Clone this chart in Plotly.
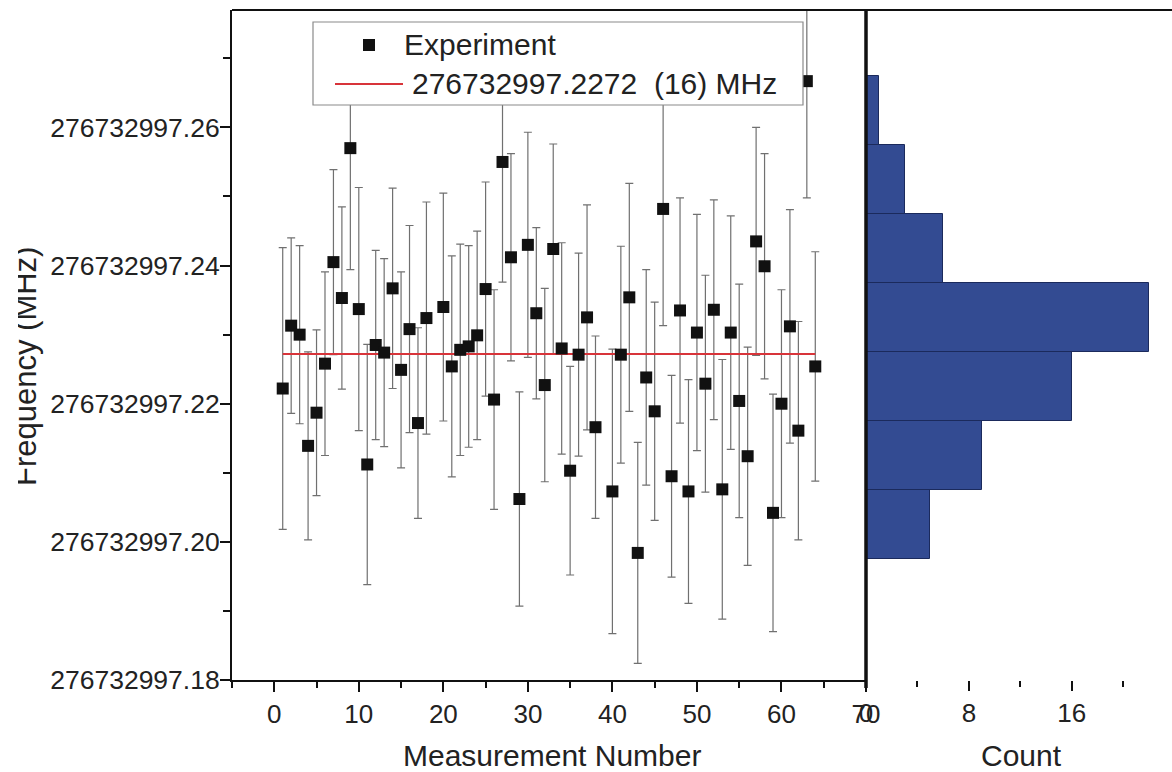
import plotly.graph_objects as go

# Repeated frequency measurements (MHz) with 1-sigma uncertainties
measurement = [1, 2, 3, 4, 5, 6, 7, 8, 9, 10, 11, 12, 13, 14, 15, 16, 17, 18,
               20, 21, 22, 23, 24, 25, 26, 27, 28, 29, 30, 31, 32, 33, 34, 35,
               36, 37, 38, 40, 41, 42, 43, 44, 45, 46, 47, 48, 49, 50, 51, 52,
               53, 54, 55, 56, 57, 58, 59, 60, 61, 62, 63, 64]
frequency = [276732997.2222, 276732997.2313, 276732997.2300, 276732997.2139,
             276732997.2187, 276732997.2258, 276732997.2405, 276732997.2353,
             276732997.2570, 276732997.2337, 276732997.2112, 276732997.2285,
             276732997.2274, 276732997.2367, 276732997.2249, 276732997.2308,
             276732997.2172, 276732997.2324, 276732997.2340, 276732997.2254,
             276732997.2278, 276732997.2283, 276732997.2299, 276732997.2366,
             276732997.2206, 276732997.2550, 276732997.2412, 276732997.2062,
             276732997.2430, 276732997.2331, 276732997.2227, 276732997.2424,
             276732997.2280, 276732997.2103, 276732997.2271, 276732997.2325,
             276732997.2166, 276732997.2073, 276732997.2271, 276732997.2354,
             276732997.1984, 276732997.2238, 276732997.2189, 276732997.2482,
             276732997.2095, 276732997.2335, 276732997.2073, 276732997.2303,
             276732997.2229, 276732997.2336, 276732997.2076, 276732997.2303,
             276732997.2204, 276732997.2124, 276732997.2435, 276732997.2399,
             276732997.2042, 276732997.2200, 276732997.2312, 276732997.2161,
             276732997.2667, 276732997.2254]
uncertainty = [0.0204, 0.0127, 0.0129, 0.0136, 0.0120, 0.0133, 0.0134, 0.0132,
               0.0176, 0.0176, 0.0174, 0.0137, 0.0136, 0.0145, 0.0142, 0.0150,
               0.0138, 0.0168, 0.0165, 0.0160, 0.0153, 0.0146, 0.0151, 0.0155,
               0.0159, 0.0174, 0.0150, 0.0155, 0.0163, 0.0124, 0.0140, 0.0152,
               0.0153, 0.0151, 0.0147, 0.0163, 0.0132, 0.0206, 0.0157, 0.0165,
               0.0160, 0.0156, 0.0158, 0.0169, 0.0146, 0.0163, 0.0162, 0.0171,
               0.0157, 0.0159, 0.0188, 0.0169, 0.0169, 0.0158, 0.0165, 0.0163,
               0.0172, 0.0165, 0.0169, 0.0158, 0.0169, 0.0166]

# Weighted mean result
mean_frequency = 276732997.2272
mean_label = "276732997.2272\u00a0 (16) MHz"

# Histogram of the measurements
bin_lower = [276732997.1975, 276732997.2075, 276732997.2175, 276732997.2275,
             276732997.2375, 276732997.2475, 276732997.2575]
bin_width = 0.01
bin_counts = [5, 9, 16, 22, 6, 3, 1]

# Axis ticks
y_tickvals = [276732997.18, 276732997.20, 276732997.22, 276732997.24, 276732997.26]
y_ticktext = ["276732997.18", "276732997.20", "276732997.22", "276732997.24", "276732997.26"]
y_minorvals = [276732997.19, 276732997.21, 276732997.23, 276732997.25, 276732997.27]
x_tickvals = [0, 10, 20, 30, 40, 50, 60, 70]
count_tickvals = [0, 8, 16]

W, H = 1172, 772
FONT = "Liberation Sans, Arial, Helvetica, sans-serif"
TXT = "#222222"


def px(x):
    return x / W


def py(y):
    return 1 - y / H


left_l, left_r = px(232), px(866)
top, bottom = py(10), py(680)

fig = go.Figure()

# Error bars
fig.add_trace(go.Scatter(
    x=measurement, y=frequency, mode="markers",
    marker=dict(size=1, color="rgba(0,0,0,0)"),
    error_y=dict(type="data", array=uncertainty, visible=True,
                 color="#707070", thickness=1.2, width=4),
    cliponaxis=False, showlegend=False, hoverinfo="skip",
    xaxis="x", yaxis="y",
))

# Mean value line
fig.add_trace(go.Scatter(
    x=[measurement[0], measurement[-1]], y=[mean_frequency, mean_frequency],
    mode="lines", line=dict(color="#d8343a", width=2),
    showlegend=False, xaxis="x", yaxis="y",
))

# Measurement points
fig.add_trace(go.Scatter(
    x=measurement, y=frequency, mode="markers",
    marker=dict(symbol="square", size=12, color="#111111", line=dict(width=0)),
    cliponaxis=False, showlegend=False, xaxis="x", yaxis="y",
))

# Side histogram
bin_centers = [b + bin_width / 2 for b in bin_lower]
fig.add_trace(go.Bar(
    x=bin_counts, y=bin_centers, orientation="h", width=bin_width,
    marker=dict(color="#334b92", line=dict(color="#1b2a5c", width=1)),
    showlegend=False, xaxis="x2", yaxis="y2",
))

y_range = [276732997.18, 276732997.277]

fig.update_layout(
    template="none",
    width=W, height=H, autosize=False,
    margin=dict(l=0, r=0, t=0, b=0, autoexpand=False),
    paper_bgcolor="white", plot_bgcolor="white",
    font=dict(family=FONT, color=TXT, size=26),
    bargap=0,
    xaxis=dict(
        domain=[left_l, left_r], range=[-5, 70], anchor="y", automargin=False,
        tickmode="array", tickvals=x_tickvals,
        ticks="outside", ticklen=10, tickwidth=1.5, tickcolor="#111",
        minor=dict(dtick=5, tick0=0, ticks="outside", ticklen=6,
                   tickwidth=1.5, tickcolor="#111", showgrid=False),
        showline=True, linecolor="#111", linewidth=2,
        showgrid=False, zeroline=False,
        tickfont=dict(size=26, color=TXT),
    ),
    yaxis=dict(
        domain=[bottom, top], range=y_range, anchor="x", automargin=False,
        tickmode="array", tickvals=y_tickvals, ticktext=y_ticktext,
        ticks="outside", ticklen=10, tickwidth=1.5, tickcolor="#111",
        ticklabelstandoff=-5,
        minor=dict(tickmode="array", tickvals=y_minorvals, ticks="outside",
                   ticklen=7, tickwidth=1.5, tickcolor="#111", showgrid=False),
        showline=True, linecolor="#111", linewidth=2,
        showgrid=False, zeroline=False,
        tickfont=dict(size=26.5, color=TXT),
    ),
    xaxis2=dict(
        domain=[left_r, 1.0], range=[0, 23.8], anchor="y2", automargin=False,
        tickmode="array", tickvals=count_tickvals,
        ticks="outside", ticklen=10, tickwidth=1.5, tickcolor="#111",
        minor=dict(dtick=4, tick0=0, ticks="outside", ticklen=6,
                   tickwidth=1.5, tickcolor="#111", showgrid=False),
        showline=False, showgrid=False, zeroline=False,
        tickfont=dict(size=26, color=TXT),
    ),
    yaxis2=dict(
        domain=[bottom, top], range=y_range, anchor="x2", automargin=False,
        showticklabels=False, ticks="", showline=False,
        showgrid=False, zeroline=False,
    ),
)

shapes = [
    # frame top across both panels
    dict(type="line", xref="paper", yref="paper", x0=left_l, x1=1.0, y0=top, y1=top,
         line=dict(color="#111", width=2), layer="above"),
    # heavy divider between panels
    dict(type="line", xref="paper", yref="paper", x0=left_r, x1=left_r, y0=top, y1=py(688),
         line=dict(color="#111", width=3.5), layer="above"),
    # legend box
    dict(type="rect", xref="paper", yref="paper", x0=px(313), x1=px(803), y0=py(105), y1=py(22),
         fillcolor="white", line=dict(color="#8a8a8a", width=1.2), layer="above"),
    # legend symbol: square marker
    dict(type="rect", xref="paper", yref="paper", x0=px(363), x1=px(375), y0=py(51), y1=py(39),
         fillcolor="#111111", line=dict(width=0), layer="above"),
    # legend symbol: red line
    dict(type="line", xref="paper", yref="paper", x0=px(335), x1=px(403), y0=py(84), y1=py(84),
         line=dict(color="#d8343a", width=2), layer="above"),
]

annotations = [
    dict(text="Experiment", x=px(402), y=py(45), xref="paper", yref="paper",
         xanchor="left", yanchor="middle", showarrow=False,
         font=dict(size=30, color=TXT, family=FONT)),
    dict(text=mean_label, x=px(410), y=py(84), xref="paper", yref="paper",
         xanchor="left", yanchor="middle", showarrow=False,
         font=dict(size=30, color=TXT, family=FONT)),
    dict(text="Measurement Number", x=px(552), y=py(755), xref="paper", yref="paper",
         xanchor="center", yanchor="middle", showarrow=False,
         font=dict(size=30, color=TXT, family=FONT)),
    dict(text="Count", x=px(1021), y=py(755), xref="paper", yref="paper",
         xanchor="center", yanchor="middle", showarrow=False,
         font=dict(size=30, color=TXT, family=FONT)),
    dict(text="Frequency (MHz)", x=px(25), y=py(367), xref="paper", yref="paper",
         xanchor="center", yanchor="middle", showarrow=False, textangle=-90,
         font=dict(size=31, color=TXT, family=FONT)),
    # page edge trim over the left part of the vertical title
    dict(text="", x=0, y=py(367), xref="paper", yref="paper",
         xanchor="left", yanchor="middle", showarrow=False,
         width=18, height=280, bgcolor="white", borderpad=0, borderwidth=0),
]

fig.update_layout(shapes=shapes, annotations=annotations)

fig.write_html("out.html")
